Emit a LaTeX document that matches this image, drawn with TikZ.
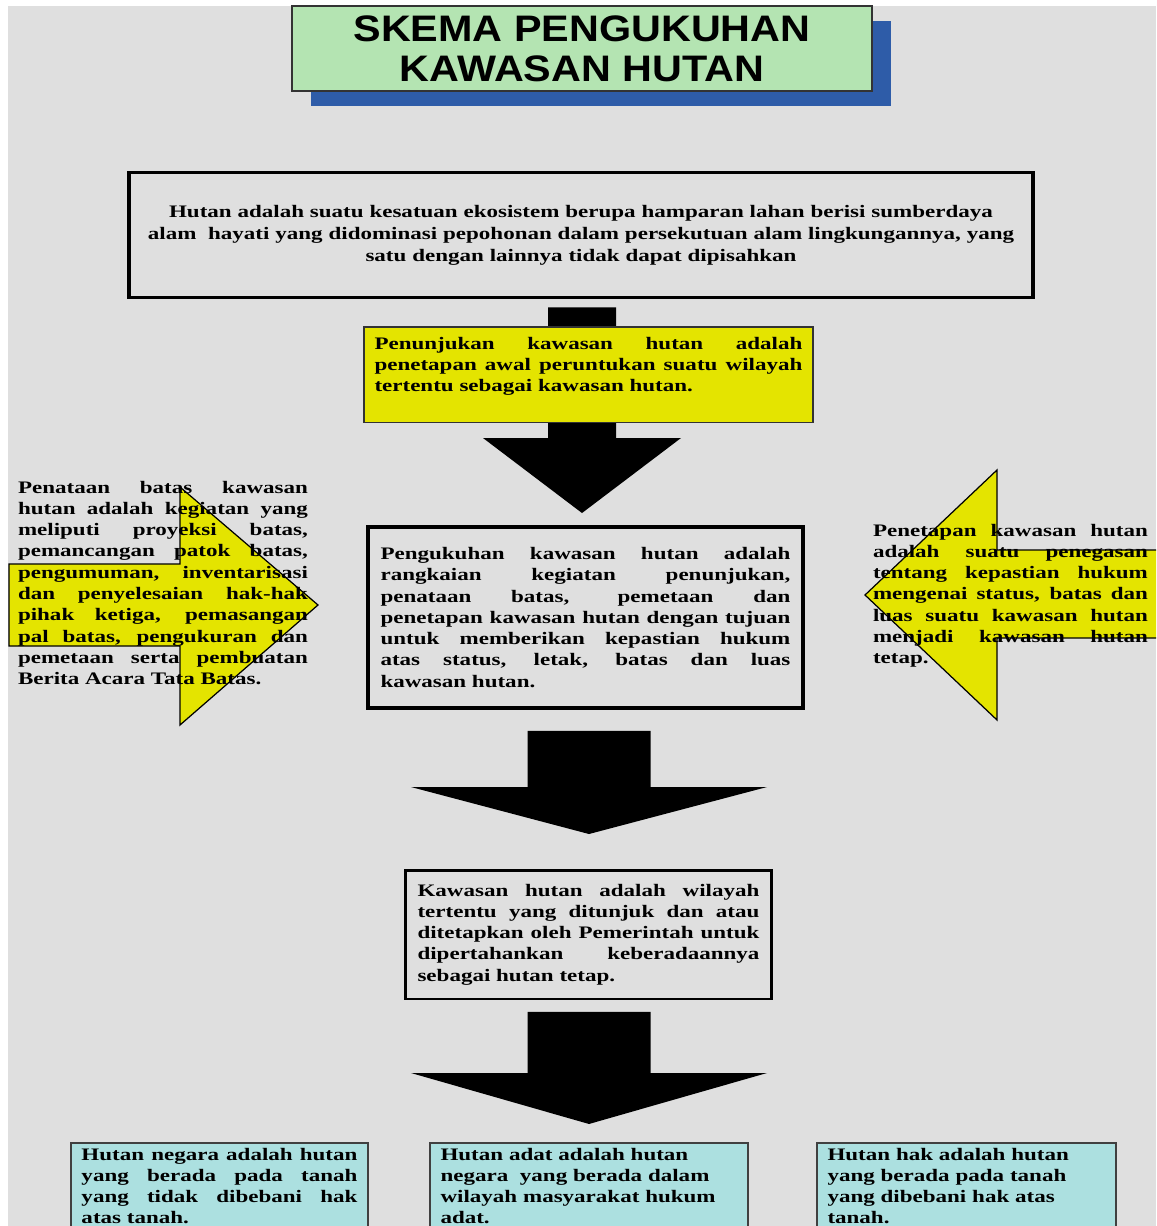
\documentclass[tikz,border=0pt]{standalone}
\usepackage{fontspec}
\setmainfont{Liberation Serif}[FakeStretch=1.31]
\newfontfamily\judulfont{Liberation Sans}[FakeStretch=1.12]
\usetikzlibrary{calc,shadows}
\definecolor{latar}{RGB}{223,223,223}
\definecolor{hijau}{RGB}{180,228,178}
\definecolor{biru}{RGB}{46,92,168}
\definecolor{kuning}{RGB}{228,228,0}
\definecolor{toska}{RGB}{172,224,224}
\tolerance=9999 \hbadness=10000 \hyphenpenalty=10000 \exhyphenpenalty=10000
\tikzset{
    isi/.style={font=\bfseries\fontsize{10}{12.1}\selectfont, inner sep=0pt, outer sep=0pt},
    kotak/.style={isi, draw=black, align=justify},
    kotakbawah/.style={isi, draw=black!75, line width=1pt, fill=toska, anchor=north west, inner xsep=0.21cm, inner ysep=0.1cm},
    panahkuning/.style={fill=kuning, draw=black, line width=0.7pt}
}
\begin{document}
\begin{tikzpicture}[x=0.02cm, y=-0.02cm]
    % Background
    \useasboundingbox (0,0) rectangle (1156,1226);
    \clip (0,0) rectangle (1156,1226);
    \fill [white] (0,0) rectangle (1156,1226);
    \fill [latar] (8,6) rectangle (1156,1226);
    % Title
    \node [draw=black!80, line width=0.8pt, fill=hijau, minimum width=11.6cm, minimum height=1.7cm, inner sep=0pt, outer sep=0pt, align=center,
        font=\judulfont\bfseries\fontsize{21}{22.7}\selectfont,
        drop shadow={shadow xshift=0.38cm, shadow yshift=-0.3cm, fill=biru, opacity=1}] (judul) at (582,48.5) {SKEMA PENGUKUHAN\\KAWASAN HUTAN};
    % Boxes
    \node [kotak, font=\bfseries\fontsize{10}{12.5}\selectfont, line width=2.2pt, align=center, text width=17.8cm, minimum width=18.08cm, minimum height=2.5cm] (hutan) at (581,235)
        {Hutan adalah suatu kesatuan ekosistem berupa hamparan lahan berisi sumberdaya\\
        alam\ \ hayati yang didominasi pepohonan dalam persekutuan alam lingkungannya, yang\\
        satu dengan lainnya tidak dapat dipisahkan};
    \node [kotak, line width=2.6pt, text width=8.2cm, minimum width=8.7cm, minimum height=3.62cm] (pengukuhan) at (585.5,617.5)
        {Pengukuhan kawasan hutan adalah\linebreak rangkaian kegiatan penunjukan,\linebreak penataan batas, pemetaan dan\linebreak
        penetapan kawasan hutan dengan tujuan\linebreak untuk memberikan kepastian hukum\linebreak atas status, letak, batas dan luas\linebreak kawasan hutan.};
    \node [kotak, line width=1.7pt, text width=6.84cm, minimum width=7.34cm, minimum height=2.58cm] (kawasan) at (588.5,934.5)
        {Kawasan hutan adalah wilayah\linebreak tertentu yang ditunjuk dan atau\linebreak ditetapkan oleh Pemerintah untuk\linebreak
        dipertahankan keberadaannya\linebreak sebagai hutan tetap.};
    \node [kotakbawah, align=justify, text width=5.52cm] (negara) at (71,1143)
        {Hutan negara adalah hutan\linebreak yang berada pada tanah\linebreak yang tidak dibebani hak\linebreak atas tanah.};
    \node [kotakbawah, align=left, text width=5.94cm] (adat) at (430,1143)
        {Hutan adat adalah hutan\\negara\ \ yang berada dalam\\wilayah masyarakat hukum\\adat.};
    \node [kotakbawah, align=left, text width=5.56cm] (hak) at (817,1143)
        {Hutan hak adalah hutan\\yang berada pada tanah\\yang dibebani hak atas\\tanah.};
    % Down arrows
    \coordinate (a1) at ($(hutan.south)+(1,10)$);
    \coordinate (b1) at ($(pengukuhan.north)+(-3.5,-14)$);
    \coordinate (a2) at ($(pengukuhan.south)+(3.5,23)$);
    \coordinate (b2) at ($(kawasan.north)+(0.5,-36)$);
    \coordinate (a3) at ($(kawasan.south)+(0.5,13)$);
    \coordinate (b3) at ($(kawasan.south)+(0.5,125)$);
    \fill [black] ($(a1)+(-34,0)$) -- ($(a1)+(34,0)$) -- ($(b1)+(34,-75)$) -- ($(b1)+(99,-75)$) -- (b1) -- ($(b1)+(-99,-75)$) -- ($(b1)+(-34,-75)$) -- cycle;
    \fill [black] ($(a2)+(-61.5,0)$) -- ($(a2)+(61.5,0)$) -- ($(b2)+(61.5,-47)$) -- ($(b2)+(178,-47)$) -- (b2) -- ($(b2)+(-178,-47)$) -- ($(b2)+(-61.5,-47)$) -- cycle;
    \fill [black] ($(a3)+(-61.5,0)$) -- ($(a3)+(61.5,0)$) -- ($(b3)+(61.5,-51)$) -- ($(b3)+(178,-51)$) -- (b3) -- ($(b3)+(-178,-51)$) -- ($(b3)+(-61.5,-51)$) -- cycle;
    % Yellow box over the first arrow
    \node [isi, draw=black!80, line width=0.8pt, fill=kuning, anchor=north west, align=justify, text width=8.56cm, minimum width=8.98cm,
        inner xsep=0.21cm, inner ysep=0.2cm] (penunjukan) at (364,327)
        {Penunjukan kawasan hutan adalah\linebreak penetapan awal peruntukan suatu wilayah\linebreak tertentu sebagai kawasan hutan.\par\kern0.34cm};
    % Side arrows
    \draw [panahkuning] (9,564) -- (180,564) -- (180,487) -- (318,605) -- (180,725) -- (180,646) -- (9,646) -- cycle;
    \draw [panahkuning] (1170,550) -- (997,550) -- (997,470) -- (865,595) -- (997,720) -- (997,638) -- (1170,638);
    \node [isi, anchor=north west, align=justify, text width=5.8cm] (penataan) at (18,481)
        {Penataan batas kawasan\linebreak hutan adalah kegiatan yang\linebreak meliputi proyeksi batas,\linebreak pemancangan patok batas,\linebreak
        pengumuman, inventarisasi\linebreak dan penyelesaian hak-hak\linebreak pihak ketiga, pemasangan\linebreak pal batas, pengukuran dan\linebreak
        pemetaan serta pembuatan\linebreak Berita Acara Tata Batas.};
    \node [isi, anchor=north west, align=justify, text width=5.5cm] (penetapan) at (873,524)
        {Penetapan kawasan hutan\linebreak adalah suatu penegasan\linebreak tentang kepastian hukum\linebreak mengenai status, batas dan\linebreak
        luas suatu kawasan hutan\linebreak menjadi kawasan hutan\linebreak tetap.};
\end{tikzpicture}
\end{document}
